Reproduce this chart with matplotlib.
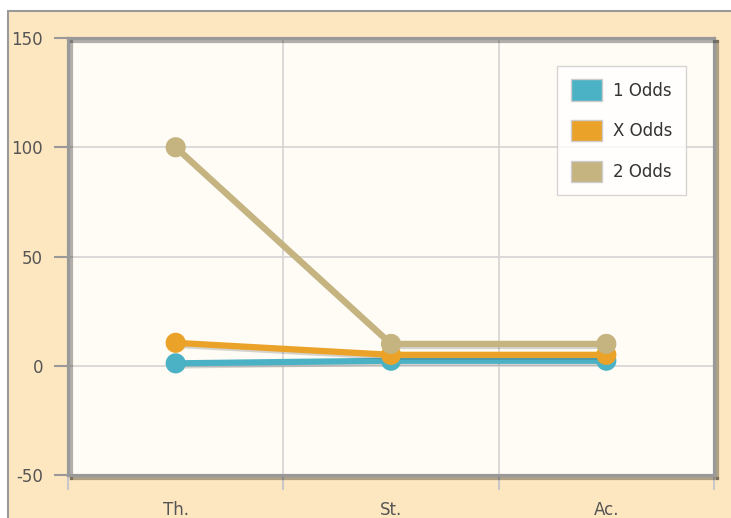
import matplotlib
matplotlib.use("Agg")
import matplotlib.pyplot as plt
import matplotlib.patheffects as pe
from matplotlib.patches import Rectangle, Patch

plt.rcParams["axes.unicode_minus"] = False

categories = ["Th.", "St.", "Ac."]
series_names = ["1 Odds", "X Odds", "2 Odds"]
odds_1 = [1.1, 2.3, 2.3]
odds_x = [10.5, 5.0, 5.0]
odds_2 = [100.0, 10.0, 10.0]
y_ticks = [-50, 0, 50, 100, 150]
colors = ["#4bb2c5", "#EAA228", "#c5b47f"]

fig = plt.figure(figsize=(7.31, 5.18), dpi=100, facecolor="white")
W, H = 731, 518
fig.patches.append(Rectangle((8 / W, -0.01), 1 - 8 / W + 0.01, 1 - 11 / H + 0.01, transform=fig.transFigure,
                             facecolor="#FDE7C0", edgecolor="#9a9a9a", linewidth=1.5, zorder=-10))

ax = fig.add_axes([68 / W, (518 - 475) / H, 646 / W, 437 / H])
ax.set_facecolor("#FFFCF5")
ax.set_xlim(-0.5, 2.5)
ax.set_ylim(-50, 150)

xs = list(range(len(categories)))
shadow = [pe.SimpleLineShadow(offset=(1.5, -1.5), alpha=0.25, shadow_color="#555"), pe.Normal()]
for vals, c, name in zip([odds_1, odds_x, odds_2], colors, series_names):
    ax.plot(xs, vals, color=c, linewidth=4.5, marker="o", markersize=14.5,
            markeredgewidth=0, label=name, path_effects=shadow, zorder=3)

ax.set_yticks(y_ticks)
ax.set_xticks([-0.5, 0.5, 1.5, 2.5])
ax.set_xticklabels([])
ax.set_xticks(xs, minor=True)
ax.set_xticklabels(categories, minor=True)
ax.grid(True, color="#d4d4d4", linewidth=1.2, zorder=1)
ax.set_axisbelow(True)

ax.tick_params(axis="y", length=10, width=1.5, color="#999999", labelcolor="#555555",
               labelsize=12, pad=8)
ax.tick_params(axis="x", which="major", length=11, width=1.5, color="#c8c8c8")
ax.tick_params(axis="x", which="minor", length=0, labelcolor="#555555", labelsize=12, pad=19)

for s in ax.spines.values():
    s.set_color("#999999")
    s.set_linewidth(2.3)
    s.set_path_effects([pe.SimpleLineShadow(offset=(2, -2), alpha=0.3), pe.Normal()])

handles = [Patch(facecolor=c, edgecolor="#cccccc", linewidth=1.0) for c in colors]
leg = ax.legend(handles, series_names, loc="upper right", bbox_to_anchor=(1 - 28 / 646, 1 - 28 / 437),
                borderaxespad=0, fontsize=12, frameon=True, fancybox=False,
                handlelength=1.9, handleheight=1.6, handletextpad=0.65, labelspacing=1.15,
                borderpad=0.8, labelcolor="#333333")
leg.get_frame().set_edgecolor("#cccccc")
leg.get_frame().set_facecolor("white")
leg.get_frame().set_linewidth(1)

fig.savefig("out.png", dpi=100)
